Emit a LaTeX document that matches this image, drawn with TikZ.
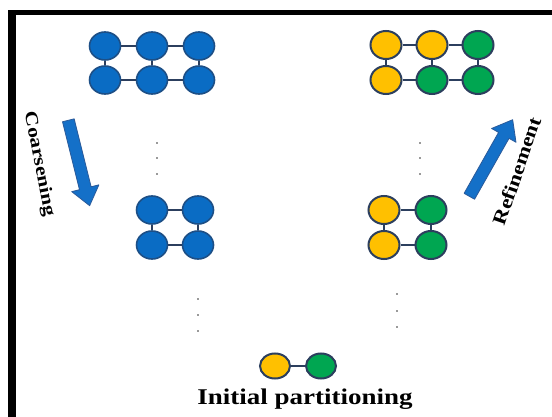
\documentclass[tikz,border=0pt]{standalone}
\usepackage{fontspec}
\usetikzlibrary{shapes.geometric}
\newfontfamily\labfont[FakeStretch=1.2]{Liberation Serif}
\definecolor{vblue}{HTML}{0A6CC4}
\definecolor{vblueline}{HTML}{1D4F86}
\definecolor{vyellow}{HTML}{FFC000}
\definecolor{vgreen}{HTML}{00A651}
\definecolor{vline}{HTML}{2C3F5E}
\definecolor{arrowfill}{HTML}{1470C8}
\definecolor{arrowline}{HTML}{2A5A9A}
\begin{document}
\begin{tikzpicture}[x=1pt,y=-1pt,
  vtx/.style={ellipse, line width=1.6pt, minimum width=31pt, minimum height=28pt, inner sep=0pt},
  bv/.style={vtx, fill=vblue, draw=vblueline},
  yv/.style={vtx, fill=vyellow, draw=vline, line width=2pt},
  gv/.style={vtx, fill=vgreen, draw=vline, line width=2pt},
  link/.style={draw=vline, line width=1.3pt},
  dotmark/.style={circle, fill=black!80, inner sep=0pt, minimum size=1.8pt},
  blockarrow/.style={fill=arrowfill, draw=arrowline, line width=0.8pt, line join=round},
  lab/.style={font=\labfont\bfseries, inner sep=0pt}]

\useasboundingbox (0,0) rectangle (552,417);
\fill[white] (0,0) rectangle (552,417);
% frame
\fill[black] (8,10) rectangle (552,15.5);
\fill[black] (8,10) rectangle (15.5,417);

% finest graph (left)
\node[bv] (a1) at (105,46) {};
\node[bv] (a2) at (152,46) {};
\node[bv] (a3) at (199,46) {};
\node[bv] (a4) at (105,80) {};
\node[bv] (a5) at (152,80) {};
\node[bv] (a6) at (199,80) {};
\draw[link] (a1) -- (a2) (a2) -- (a3) (a4) -- (a5) (a5) -- (a6)
            (a1) -- (a4) (a2) -- (a5) (a3) -- (a6);

% finest graph (right, partitioned)
\node[yv] (p1) at (386,45) {};
\node[yv] (p2) at (432,45) {};
\node[gv] (p3) at (478,45) {};
\node[yv] (p4) at (386,80) {};
\node[gv] (p5) at (432,80) {};
\node[gv] (p6) at (478,80) {};
\draw[link] (p1) -- (p2) (p2) -- (p3) (p4) -- (p5) (p5) -- (p6)
            (p1) -- (p4) (p2) -- (p5) (p3) -- (p6);

% coarser graph (left)
\node[bv] (b1) at (152,210) {};
\node[bv] (b2) at (198,210) {};
\node[bv] (b3) at (152,245) {};
\node[bv] (b4) at (198,245) {};
\draw[link] (b1) -- (b2) (b3) -- (b4) (b1) -- (b3) (b2) -- (b4);

% coarser graph (right, partitioned)
\node[yv] (q1) at (384,210) {};
\node[gv] (q2) at (431,210) {};
\node[yv] (q3) at (384,245) {};
\node[gv] (q4) at (431,245) {};
\draw[link] (q1) -- (q2) (q3) -- (q4) (q1) -- (q3) (q2) -- (q4);

% coarsest graph
\node[yv, minimum width=30pt, minimum height=25pt] (c1) at (275,366) {};
\node[gv, minimum width=30pt, minimum height=25pt] (c2) at (321,366) {};
\draw[link] (c1) -- (c2);
\node[lab, font=\labfont\bfseries\fontsize{22.5}{26}\selectfont] (init) at (305,399) {Initial partitioning};

% vertical ellipses between levels
\foreach \i/\x/\y in {l1/157/143, l2/157/158, l3/157/174,
                      l4/198/299, l5/198/315, l6/198/331,
                      r1/420/143, r2/420/158, r3/420/174,
                      r4/397/294, r5/397/311, r6/397/327}
  \node[dotmark] (dot\i) at (\x,\y) {};

% coarsening arrow
\begin{scope}[shift={(79,163)}, rotate=-76]
  \draw[blockarrow] (-44,-6) -- (26,-6) -- (26,-14) -- (44,0) -- (26,14) -- (26,6) -- (-44,6) -- cycle;
\end{scope}
\node[lab, font=\labfont\bfseries\fontsize{18}{21}\selectfont, rotate=-79] (coarse) at (39,164) {Coarsening};

% refinement arrow
\begin{scope}[shift={(491,158)}, rotate=60.5]
  \draw[blockarrow] (-44,-6) -- (26,-6) -- (26,-14) -- (44,0) -- (26,14) -- (26,6) -- (-44,6) -- cycle;
\end{scope}
\node[lab, font=\labfont\bfseries\fontsize{19}{22}\selectfont, rotate=71] (refine) at (517,171) {Refinement};
\end{tikzpicture}
\end{document}
